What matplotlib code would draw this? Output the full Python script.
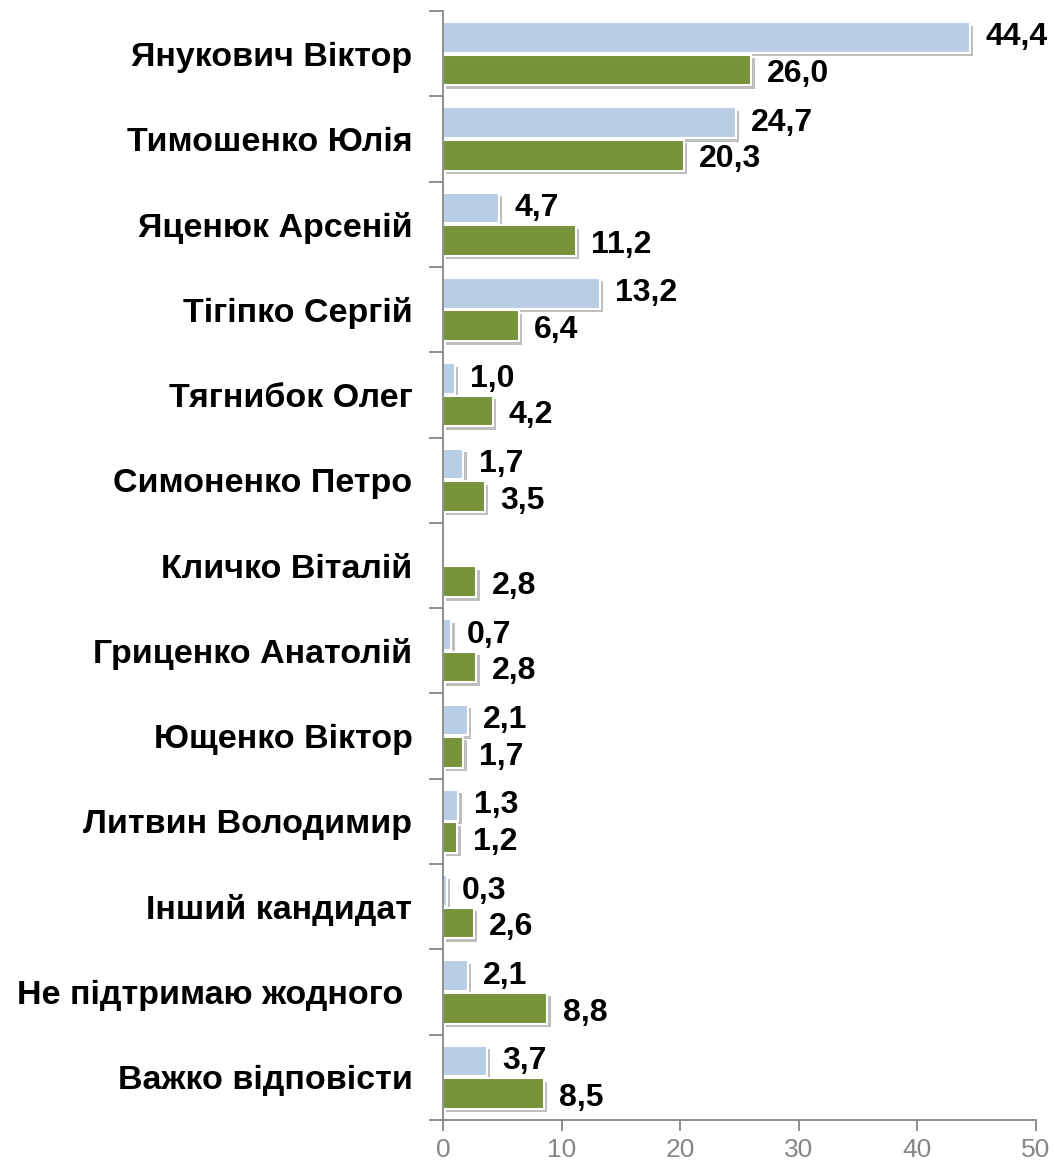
import numpy as np
import matplotlib.pyplot as plt
import matplotlib.patheffects as pe

# ============================================================
# DATA
# ============================================================

candidates = [
    "Янукович Віктор",
    "Тимошенко Юлія",
    "Яценюк Арсеній",
    "Тігіпко Сергій",
    "Тягнибок Олег",
    "Симоненко Петро",
    "Кличко Віталій",
    "Гриценко Анатолій",
    "Ющенко Віктор",
    "Литвин Володимир",
    "Інший кандидат",
    "Не підтримаю жодного ",
    "Важко відповісти",
]

# light blue series (top bar in each group); None = no bar
series_blue = [44.4, 24.7, 4.7, 13.2, 1.0, 1.7, None, 0.7, 2.1, 1.3, 0.3, 2.1, 3.7]
# green series (bottom bar in each group)
series_green = [26.0, 20.3, 11.2, 6.4, 4.2, 3.5, 2.8, 2.8, 1.7, 1.2, 2.6, 8.8, 8.5]

x_ticks = [0, 10, 20, 30, 40, 50]

# ============================================================
# STYLE
# ============================================================

blue_color = "#b9cde5"
green_color = "#77933c"
axis_color = "#868686"

plt.rcParams["font.family"] = ["Liberation Sans", "DejaVu Sans"]

shadow = [pe.SimplePatchShadow(offset=(2.5, -2.5), shadow_rgbFace="#8a8a8a", alpha=0.55),
          pe.Normal()]


def fmt(v):
    return f"{v:.1f}".replace(".", ",")


# ============================================================
# PLOT
# ============================================================

fig = plt.figure(figsize=(10.54, 11.71), dpi=100)
ax = fig.add_axes([443 / 1054, 51 / 1171, 593 / 1054, 1109 / 1171])

n = len(candidates)
y = np.arange(n)
bar_h = 0.36
off = 0.19

bars_b = ax.barh(y - off, [0 if v is None else v for v in series_blue], height=bar_h,
                 color=blue_color, edgecolor="white", linewidth=1.5)
bars_g = ax.barh(y + off, series_green, height=bar_h,
                 color=green_color, edgecolor="white", linewidth=1.5)

for b, v in zip(bars_b, series_blue):
    if v is None:
        b.set_visible(False)
        continue
    b.set_path_effects(shadow)
    ax.text(v + 1.3, b.get_y() + b.get_height() / 2, fmt(v),
            ha="left", va="center", fontsize=23, fontweight="bold")

for b, v in zip(bars_g, series_green):
    b.set_path_effects(shadow)
    ax.text(v + 1.3, b.get_y() + b.get_height() / 2 + 0.05, fmt(v),
            ha="left", va="center", fontsize=23, fontweight="bold")

ax.set_xlim(0, 50)
ax.set_ylim(n - 0.5, -0.5)

# y axis: ticks between categories, labels at centres
ax.set_yticks(np.arange(n + 1) - 0.5)
ax.set_yticklabels([])
ax.set_yticks(y, minor=True)
ax.set_yticklabels(candidates, minor=True, fontsize=24.5, fontweight="bold")
ax.tick_params(axis="y", which="major", length=10, color=axis_color, width=1.3)
ax.tick_params(axis="y", which="minor", length=0, pad=22)

ax.set_xticks(x_ticks)
ax.set_xticklabels([str(t) for t in x_ticks], fontsize=19, color=axis_color)
ax.tick_params(axis="x", length=8, color=axis_color, width=1.3, pad=5)

for side in ["top", "right"]:
    ax.spines[side].set_visible(False)
for side in ["left", "bottom"]:
    ax.spines[side].set_color(axis_color)
    ax.spines[side].set_linewidth(1.3)

fig.savefig("out.png", dpi=100)
